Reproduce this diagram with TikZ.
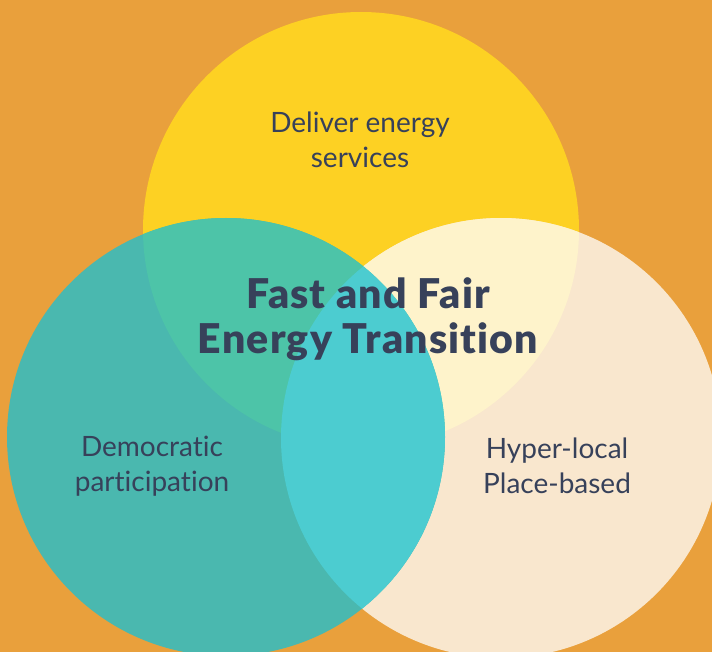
\documentclass[tikz,border=0pt]{standalone}
\usepackage{fontspec}
\setmainfont{Lato}[Ligatures={NoCommon}]
\newfontfamily\heavyfont{Lato}[UprightFont={* Black},Ligatures={NoCommon},LetterSpace=3]
\begin{document}
\begin{tikzpicture}[x=1pt,y=-1pt,
  lbl/.style={text=txt,align=center,font=\fontsize{28}{35}\selectfont},
  ttl/.style={text=txt,align=center,font=\heavyfont\fontsize{41}{45}\selectfont}]
\definecolor{bg}{HTML}{E9A03C}
\definecolor{ycol}{HTML}{FDD123}
\definecolor{ccol}{HTML}{F9E7CE}
\definecolor{tcol}{HTML}{4AB8AF}
\definecolor{ytcol}{HTML}{4DC4A8}
\definecolor{yccol}{HTML}{FEF3CB}
\definecolor{tccol}{HTML}{4CCCD0}
\definecolor{txt}{HTML}{37415A}
\fill[bg] (0,0) rectangle (712,652);
\useasboundingbox (0,0) rectangle (712,652);
\def\Ycirc{(361,230) circle[radius=218pt]}
\def\Ccirc{(501,438) circle[radius=220pt]}
\def\Tcirc{(226,437) circle[radius=219pt]}
\fill[ycol] \Ycirc;
\fill[ccol] \Ccirc;
\fill[tcol] \Tcirc;
\begin{scope}
  \clip \Ycirc;
  \fill[yccol] \Ccirc;
  \fill[ytcol] \Tcirc;
\end{scope}
\begin{scope}
  \clip \Ccirc;
  \fill[tccol] \Tcirc;
\end{scope}
\node[lbl] (deliver) at (360,140) {Deliver energy\\services};
\node[ttl] (title) at (368,319) {Fast and Fair\\Energy Transition};
\node[lbl] (demo) at (152,466) {Democratic\\participation};
\node[lbl] (hyper) at (557,466) {Hyper-local\\Place-based};
\end{tikzpicture}
\end{document}
